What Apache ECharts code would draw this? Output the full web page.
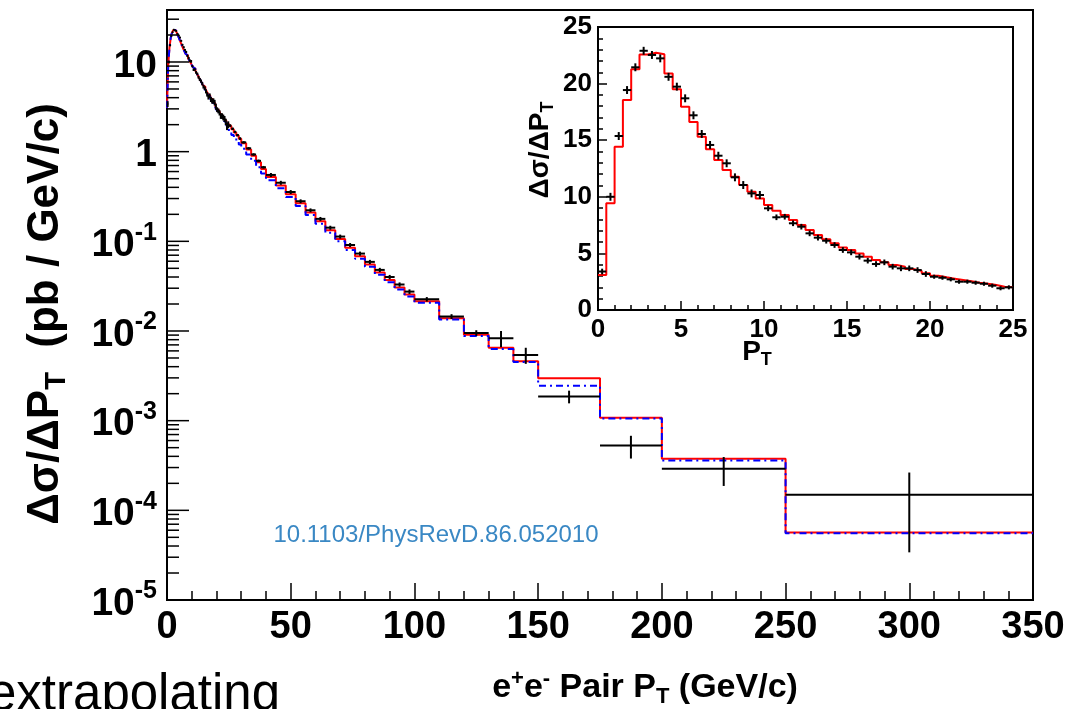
<!DOCTYPE html>
<html><head><meta charset="utf-8">
<script src="https://cdn.jsdelivr.net/npm/echarts@6/dist/echarts.min.js"></script>
<style>html,body{margin:0;padding:0;background:#fff;overflow:hidden}#c{width:1077px;height:709px}</style>
</head><body><div id="c"></div>
<script>
// ---- data ----
const binEdges = [0,0.5,1,1.5,2,2.5,3,3.5,4,4.5,5,5.5,6,6.5,7,7.5,8,8.5,9,9.5,10,10.5,11,11.5,12,12.5,13,13.5,14,14.5,15,15.5,16,16.5,17,17.5,18,18.5,19,19.5,20,20.5,21,21.5,22,22.5,23,23.5,24,24.5,25,26,27,28,29,30,32,34,36,38,40,44,48,52,56,60,64,68,72,76,80,84,88,92,96,100,110,120,130,140,150,175,200,250,350];
const redTheory = [3.09,9.42,14.43,18.55,21.26,22.58,22.73,22.6,20.9,19.5,17.96,16.6,15.3,14.2,13.25,12.37,11.78,11.04,10.45,9.86,9.28,8.77,8.39,7.95,7.5,7.07,6.63,6.24,5.89,5.53,5.3,5.0,4.71,4.42,4.21,3.98,3.83,3.62,3.45,3.24,3.03,2.89,2.77,2.65,2.53,2.41,2.32,2.21,2.06,2.02,
  1.92,1.78,1.64,1.51,1.39,
  1.24,1.06,0.90,0.76,0.64,
  0.52,0.42,0.335,0.265,0.21,0.167,0.133,0.106,0.085,0.068,0.055,0.045,0.037,0.0305,0.0255,
  0.0214,0.0139,0.0091,0.0065,0.0046,
  0.00298,0.00108,0.000375,0.0000566];
const blueTheory = [3.09,9.42,14.43,18.55,21.26,22.58,22.73,22.6,20.9,19.5,17.96,16.6,15.3,14.2,13.25,12.37,11.78,11.04,10.45,9.86,9.28,8.77,8.39,7.95,7.5,7.07,6.63,6.24,5.89,5.53,5.14,4.85,4.57,4.29,4.08,3.86,3.71,3.51,3.35,3.14,2.92,2.78,2.66,2.54,2.42,2.30,2.21,2.10,1.95,1.90,
  1.66,1.53,1.41,1.30,1.20,
  1.08,0.93,0.79,0.67,0.57,
  0.48,0.39,0.312,0.248,0.197,0.157,0.125,0.1,0.08,0.064,0.052,0.0425,0.035,0.029,0.0243,
  0.0206,0.0134,0.0088,0.0063,0.0045,
  0.00245,0.00106,0.00036,0.0000555];
const dataValues = [3.4,10.0,15.37,19.43,21.44,22.9,22.53,22.23,20.6,19.73,18.7,17.2,15.55,14.58,13.63,12.96,11.72,11.04,10.3,10.16,8.98,8.19,8.24,7.66,7.36,6.77,6.39,6.12,5.74,5.3,5.09,4.71,4.36,4.06,4.21,3.83,3.68,3.68,3.53,3.18,2.94,2.85,2.71,2.5,2.5,2.41,2.32,2.15,1.92,2.0,
  1.95,1.8,1.66,1.53,1.40,
  1.27,1.09,0.93,0.79,0.67,
  0.55,0.45,0.355,0.28,0.222,0.178,0.142,0.113,0.091,0.073,0.059,0.048,0.040,0.033,0.0275,
  0.0226,0.0145,0.0095,0.0083,0.0054,
  0.00186,0.000528,0.00029,0.000149];
const dataErrors = [0.25,0.35,0.35,0.35,0.35,0.35,0.35,0.35,0.35,0.35,0.35,0.35,0.35,0.35,0.35,0.35,0.35,0.35,0.35,0.35,
  0.25,0.25,0.25,0.25,0.25,0.25,0.25,0.25,0.25,0.25,0.25,0.25,0.25,0.25,0.25,0.25,0.25,0.25,0.25,0.25,
  0.18,0.18,0.18,0.18,0.18,0.18,0.18,0.18,0.18,0.18,
  0.06,0.055,0.05,0.046,0.042,
  0.04,0.035,0.03,0.026,0.023,
  0.028,0.023,0.018,0.014,0.011,0.009,0.0072,0.0058,0.0047,0.0038,0.0031,0.0026,0.0022,0.0018,0.0016,
  0.0013,0.0009,0.0007,0.0017,0.0011,
  0.0003,0.00015,0.000103,0.000115];
const xTickLabelsMain = ['0','50','100','150','200','250','300','350'];
const yTickExponents = [-5,-4,-3,-2,-1,0,1];
const insetRange = 25;

// ---- build ----
const FONT = '"Liberation Sans", Arial, Helvetica, sans-serif';
function stepData(vals, n) {
  const out = [];
  for (let i = 0; i < n; i++) out.push([binEdges[i], vals[i]]);
  out.push([binEdges[n], vals[n - 1]]);
  return out;
}
function crossData(n) {
  const out = [];
  for (let i = 0; i < n; i++) {
    out.push([(binEdges[i] + binEdges[i + 1]) / 2, dataValues[i], binEdges[i], binEdges[i + 1], dataErrors[i]]);
  }
  return out;
}
const nAll = redTheory.length;
const nInset = binEdges.indexOf(insetRange);

// log minor/major ticks for main y axis
const yTicks = [];
for (const e of yTickExponents) {
  yTicks.push([0, Math.pow(10, e), 22]);
  for (let m = 2; m <= 9; m++) {
    const v = m * Math.pow(10, e);
    if (v <= 38) yTicks.push([0, v, 12]);
  }
}

function crossRender(params, api) {
  const xc = api.value(0), y = api.value(1), xl = api.value(2), xh = api.value(3), er = api.value(4);
  const a = api.coord([xl, y]), b = api.coord([xh, y]);
  const lo = Math.max(y - er, 1e-7);
  const c = api.coord([xc, lo]), d = api.coord([xc, y + er]);
  const st = { stroke: '#000', lineWidth: 2 };
  return { type: 'group', children: [
    { type: 'line', shape: { x1: a[0], y1: a[1], x2: b[0], y2: b[1] }, style: st },
    { type: 'line', shape: { x1: c[0], y1: c[1], x2: d[0], y2: d[1] }, style: st }
  ]};
}

const richTitle = (size) => ({
  a: { fontSize: size, fontWeight: 'bold', fontFamily: FONT, fill: '#000', lineHeight: size + 6 },
  sub: { fontSize: Math.round(size * 0.65), fontWeight: 'bold', fontFamily: FONT, fill: '#000', lineHeight: Math.round(size * 0.65), verticalAlign: 'bottom' },
  sup: { fontSize: Math.round(size * 0.65), fontWeight: 'bold', fontFamily: FONT, fill: '#000', lineHeight: Math.round(size * 0.65), verticalAlign: 'top' }
});

const chart = echarts.init(document.getElementById('c'), null, { renderer: 'canvas' });
chart.setOption({
  animation: false,
  backgroundColor: '#fff',
  grid: [
    { left: 167, top: 10, width: 866, height: 590, show: true, borderColor: '#000', borderWidth: 2, backgroundColor: 'transparent' },
    { left: 598, top: 27, width: 415, height: 283, show: true, borderColor: '#000', borderWidth: 2, backgroundColor: '#fff' }
  ],
  xAxis: [
    { gridIndex: 0, type: 'value', min: 0, max: 350, interval: 50,
      axisLine: { show: false }, splitLine: { show: false },
      axisTick: { inside: true, length: 17, lineStyle: { color: '#000', width: 1.5 } },
      minorTick: { show: true, splitNumber: 5, length: 9, lineStyle: { color: '#000', width: 1.5 } },
      axisLabel: { margin: 9, color: '#000', fontSize: 38, fontWeight: 'bold', fontFamily: FONT,
        formatter: (v) => xTickLabelsMain[Math.round(v / 50)] } },
    { gridIndex: 1, type: 'value', min: 0, max: 25, interval: 5,
      axisLine: { show: false }, splitLine: { show: false },
      axisTick: { inside: true, length: 9, lineStyle: { color: '#000', width: 1.5 } },
      minorTick: { show: true, splitNumber: 5, length: 5, lineStyle: { color: '#000', width: 1.5 } },
      axisLabel: { margin: 7, color: '#000', fontSize: 26, fontWeight: 'bold', fontFamily: FONT } }
  ],
  yAxis: [
    { gridIndex: 0, type: 'log', min: 1e-5, max: 38, logBase: 10,
      axisLine: { show: false }, splitLine: { show: false }, axisTick: { show: false }, minorTick: { show: false },
      axisLabel: { margin: 10, color: '#000',
        formatter: (v) => {
          const lg = Math.log10(v), e = Math.round(lg);
          if (Math.abs(lg - e) > 1e-6 || yTickExponents.indexOf(e) < 0) return '';
          if (e === 1) return '{b|10}';
          if (e === 0) return '{b|1}';
          return '{b|10}{s|' + e + '}';
        },
        rich: {
          b: { fontSize: 39, fontWeight: 'bold', fontFamily: FONT, color: '#000', lineHeight: 42, padding: [8, 0, 0, 0] },
          s: { fontSize: 25, fontWeight: 'bold', fontFamily: FONT, color: '#000', lineHeight: 25, verticalAlign: 'top' }
        } } },
    { gridIndex: 1, type: 'value', min: 0, max: 25, interval: 5,
      axisLine: { show: false }, splitLine: { show: false },
      axisTick: { inside: true, length: 9, lineStyle: { color: '#000', width: 1.5 } },
      minorTick: { show: true, splitNumber: 5, length: 5, lineStyle: { color: '#000', width: 1.5 } },
      axisLabel: { margin: 6, color: '#000', fontSize: 26, fontWeight: 'bold', fontFamily: FONT } }
  ],
  series: [
    { type: 'custom', xAxisIndex: 0, yAxisIndex: 0, data: yTicks, encode: { x: 0, y: 1 }, silent: true, z: 5,
      renderItem: (params, api) => {
        const p = api.coord([0, api.value(1)]);
        return { type: 'line', shape: { x1: p[0], y1: p[1], x2: p[0] + api.value(2), y2: p[1] }, style: { stroke: '#000', lineWidth: 1.5 } };
      } },
    { type: 'line', xAxisIndex: 0, yAxisIndex: 0, step: 'end', symbol: 'none', data: stepData(redTheory, nAll),
      lineStyle: { color: '#ff0000', width: 2 }, z: 2 },
    { type: 'line', xAxisIndex: 0, yAxisIndex: 0, step: 'end', symbol: 'none', data: stepData(blueTheory, nAll),
      lineStyle: { color: '#0000ff', width: 2, type: [7, 4, 2, 4] }, z: 3 },
    { type: 'custom', xAxisIndex: 0, yAxisIndex: 0, data: crossData(nAll), encode: { x: 0, y: 1 }, renderItem: crossRender, z: 4 },
    { type: 'line', xAxisIndex: 1, yAxisIndex: 1, step: 'end', symbol: 'none', data: stepData(redTheory, nInset),
      lineStyle: { color: '#ff0000', width: 2 }, z: 6 },
    { type: 'custom', xAxisIndex: 1, yAxisIndex: 1, data: crossData(nInset), encode: { x: 0, y: 1 }, renderItem: crossRender, z: 7 }
  ],
  graphic: [
    { type: 'text', x: 46, y: 314, rotation: Math.PI / 2, z: 10,
      style: { text: '{a|Δσ/ΔP}{sub|T}{a|  (pb / GeV/c)}', rich: richTitle(44), align: 'center', verticalAlign: 'middle', fill: '#000' } },
    { type: 'text', x: 645, y: 688, z: 10,
      style: { text: '{a|e}{sup|+}{a|e}{sup|-}{a| Pair P}{sub|T}{a| (GeV/c)}', rich: richTitle(34), align: 'center', verticalAlign: 'middle', fill: '#000' } },
    { type: 'text', x: 540, y: 150, rotation: Math.PI / 2, z: 10,
      style: { text: '{a|Δσ/ΔP}{sub|T}', rich: richTitle(28), align: 'center', verticalAlign: 'middle', fill: '#000' } },
    { type: 'text', x: 757, y: 352, z: 10,
      style: { text: '{a|P}{sub|T}', rich: richTitle(28), align: 'center', verticalAlign: 'middle', fill: '#000' } },
    { type: 'text', x: 436, y: 535, z: 10,
      style: { text: '10.1103/PhysRevD.86.052010', fill: '#3a88c4', font: '24px ' + FONT, align: 'center', verticalAlign: 'middle' } },
    { type: 'text', x: -12, y: 696, z: 10,
      style: { text: 'extrapolating', fill: '#000', font: '51px ' + FONT, align: 'left', verticalAlign: 'middle' } }
  ]
});
</script>
</body></html>
